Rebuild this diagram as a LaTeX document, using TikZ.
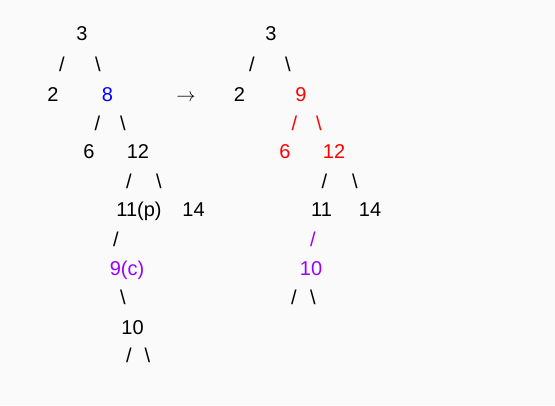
\documentclass[tikz,border=0pt]{standalone}
\usepackage{fontspec}
\setmainfont{Liberation Sans}
\definecolor{keyblue}{RGB}{0,0,255}
\definecolor{keyred}{RGB}{255,0,0}
\definecolor{keypurple}{RGB}{153,0,255}
\tikzset{every picture/.style={line width=0.75pt}}
\tikzset{lbl/.style={anchor=base,inner sep=0.75pt,font=\fontsize{15}{18}\selectfont}}
\begin{document}
\begin{tikzpicture}[x=0.75pt,y=0.75pt,yscale=-1,xscale=1]
	%set diagram to the reference size
	\fill [fill={rgb, 255:red, 250; green, 250; blue, 250 }] (0,0) rectangle (555,405);
	\useasboundingbox (0,0) rectangle (555,405);

	% Text Node: left tree
	\node [lbl] (a3) at (82,40) {3};
	\node [lbl] (a3l) at (62,71) {/};
	\node [lbl] (a3r) at (98,71) {\textbackslash};
	\node [lbl] (a2) at (53,101) {2};
	\node [lbl,text=keyblue] (a8) at (107.5,101) {8};
	\node [lbl] (a8l) at (97.5,130) {/};
	\node [lbl] (a8r) at (123,130) {\textbackslash};
	\node [lbl] (a6) at (89,158.5) {6};
	\node [lbl] (a12) at (138,158.5) {12};
	\node [lbl] (a12l) at (129,188) {/};
	\node [lbl] (a12r) at (159,188) {\textbackslash};
	\node [lbl] (a11) at (139,216.5) {11(p)};
	\node [lbl] (a14) at (193.5,216.5) {14};
	\node [lbl] (a11l) at (116,246) {/};
	\node [lbl,text=keypurple] (a9) at (127,275) {9(c)};
	\node [lbl] (a9r) at (123,304.5) {\textbackslash};
	\node [lbl] (a10) at (132.5,334) {10};
	\node [lbl] (a10l) at (129,362.5) {/};
	\node [lbl] (a10r) at (147.5,362.5) {\textbackslash};

	% Text Node: arrow
	\node [lbl] (arr) at (186,101) {$\rightarrow$};

	% Text Node: right tree
	\node [lbl] (b3) at (271,40) {3};
	\node [lbl] (b3l) at (252,71) {/};
	\node [lbl] (b3r) at (288,71) {\textbackslash};
	\node [lbl] (b2) at (239.5,101) {2};
	\node [lbl,text=keyred] (b9) at (301,101) {9};
	\node [lbl,text=keyred] (b9l) at (294.5,130) {/};
	\node [lbl,text=keyred] (b9r) at (319,130) {\textbackslash};
	\node [lbl,text=keyred] (b6) at (285,158.5) {6};
	\node [lbl,text=keyred] (b12) at (334,158.5) {12};
	\node [lbl] (b12l) at (324.5,188) {/};
	\node [lbl] (b12r) at (355,188) {\textbackslash};
	\node [lbl] (b11) at (321.5,216.5) {11};
	\node [lbl] (b14) at (370,216.5) {14};
	\node [lbl,text=keypurple] (b11l) at (313,246) {/};
	\node [lbl,text=keypurple] (b10) at (311,275) {10};
	\node [lbl] (b10l) at (294,304.5) {/};
	\node [lbl] (b10r) at (313,304.5) {\textbackslash};

\end{tikzpicture}
\end{document}
